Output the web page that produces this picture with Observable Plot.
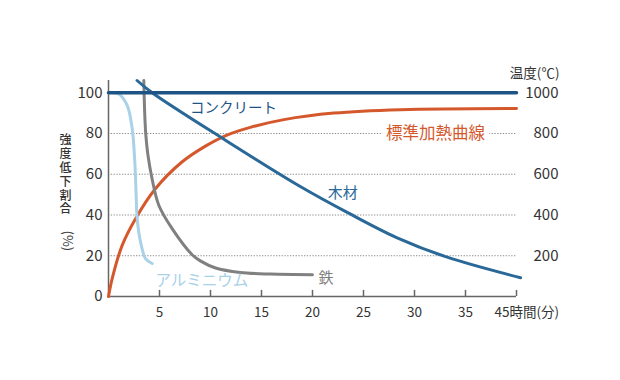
<!DOCTYPE html>
<html><head><meta charset="utf-8">
<script src="https://cdn.jsdelivr.net/npm/d3@7"></script>
<script src="https://cdn.jsdelivr.net/npm/@observablehq/plot@0.6"></script>
<style>body{margin:0;background:#fff} #chart{width:620px;height:380px}</style>
</head><body><div id="chart"></div>
<script>
// ---- data ----
const xTicks = [5, 10, 15, 20, 25, 30, 35, 40];
const xTickLabels = ["5", "10", "15", "20", "25", "30", "35", "45時間(分)"];
const leftTicks = [0, 20, 40, 60, 80, 100];
const rightTicks = [200, 400, 600, 800, 1000];
const gridLevels = [20, 40, 60, 80];
const yTitle = "強度低下割合";
const yTitleUnit = "(%)";
const rightTitle = "温度(℃)";

// time (min) / strength remaining (%)
const concreteT = [0, 40];
const concreteV = [100, 100];
const woodT = [2.8, 4.28, 11.5, 18.8, 23.4, 28.3, 33.2, 40.4];
const woodV = [106, 100, 76.6, 54, 41.3, 28.8, 19.3, 9.2];
const aluT = [0, 1.0, 1.83, 2.32, 2.58, 2.71, 2.81, 3.14, 3.63, 4.28];
const aluV = [100, 99.4, 93.8, 82.4, 66, 49.7, 38.2, 26.8, 18.6, 16.2];
const ironT = [3.46, 3.55, 3.65, 3.85, 4.27, 4.93, 6.24, 8.2, 9.0, 10.5, 12.9, 15.9, 20];
const ironV = [106, 90, 80, 70, 57.8, 44.8, 33.3, 20.5, 17.5, 14, 11.8, 11, 10.7];
// standard heating curve: time (min) / temperature (℃)
const heatT = [0, 0.36, 1.34, 2.65, 4.6, 7.2, 9.5, 11.5, 13.9, 17.2, 22.1, 28.6, 40];
const heatC = [0, 88, 251, 382, 529, 660, 738, 790, 830, 868, 900, 917, 923];

// series labels: name, anchor time, anchor value, size, colour
const labelNames = ["コンクリート", "木材", "標準加熱曲線", "アルミニウム", "鉄"];
const labelT = [8.0, 21.5, 27.2, 4.6, 20.6];
const labelV = [92.3, 50.5, 79.8, 7.8, 9.2];
const labelSizes = [14.5, 15, 16.5, 15.5, 15];
const labelColors = ["#1e5386", "#2a6898", "#d4582c", "#a9d1e8", "#808080"];

// ---- build ----
const rows = (T, V) => T.map((t, i) => ({t, v: V[i]}));
const heatRows = heatT.map((t, i) => ({t, c: heatC[i]}));
const xTickRows = xTicks.map((t, i) => ({t, label: xTickLabels[i]}));
const labels = labelNames.map((n, i) => ({name: n, t: labelT[i], v: labelV[i], size: labelSizes[i], color: labelColors[i]}));
const font = "'Noto Sans CJK JP', 'Noto Sans', sans-serif";

const labelMark = (i, halo) => Plot.text([labels[i]], {
  x: "t", y: "v", text: "name", textAnchor: "start", fontSize: labels[i].size,
  fill: labels[i].color, ...(halo ? {stroke: "white", strokeWidth: halo, paintOrder: "stroke"} : {})
});

const plot = Plot.plot({
  width: 620, height: 380,
  marginLeft: 108, marginRight: 104, marginTop: 80, marginBottom: 84,
  x: {domain: [0, 40], axis: null},
  y: {domain: [0, 106], axis: null},
  style: {fontFamily: font, background: "white", color: "#333", overflow: "visible"},
  marks: [
    Plot.ruleY(gridLevels, {x1: 0, x2: 40, stroke: "#8a8a8a", strokeDasharray: "1.3,1.5", strokeWidth: 1}),
    Plot.ruleY([0], {x1: 0, x2: 40, stroke: "#666", strokeWidth: 1.5}),
    Plot.ruleX([0], {y1: 0, y2: 106, stroke: "#666", strokeWidth: 1.5}),
    Plot.ruleX(xTicks, {y1: 0, y2: 3, stroke: "#666", strokeWidth: 1.5}),
    Plot.text(xTickRows.slice(0, -1), {x: "t", y: 0, text: "label", dy: 16, fontSize: 13.5, fill: "#333"}),
    Plot.text(xTickRows.slice(-1), {x: "t", y: 0, text: "label", dy: 16, dx: -22, textAnchor: "start", fontSize: 13.5, fill: "#333"}),
    Plot.text(leftTicks, {x: 0, y: d => d, text: d => String(d), textAnchor: "end", dx: -6, fontSize: 15, fill: "#333"}),
    Plot.text(rightTicks, {x: 40, y: d => d / 10, text: d => String(d), textAnchor: "end", dx: 42, fontSize: 15, fill: "#333"}),
    Plot.text([yTitle], {frameAnchor: "left", text: d => Array.from(d).join("\n"), lineHeight: 1.15, dx: -49, dy: -14, fontSize: 12, fontWeight: 500, fill: "#333"}),
    Plot.text([yTitleUnit], {frameAnchor: "left", text: d => d, rotate: 90, dx: -41, dy: 42, fontSize: 13, fill: "#333"}),
    Plot.text([rightTitle], {frameAnchor: "top-right", text: d => d, textAnchor: "end", dx: 43, dy: -12, fontSize: 13.5, fill: "#333"}),
    labelMark(2, 10),
    Plot.line(heatRows, {x: "t", y: d => d.c / 10, stroke: "#d4582c", strokeWidth: 3, curve: "catmull-rom"}),
    Plot.line(rows(aluT, aluV), {x: "t", y: "v", stroke: "#a9d1e8", strokeWidth: 3, curve: "catmull-rom"}),
    Plot.line(rows(ironT, ironV), {x: "t", y: "v", stroke: "#808080", strokeWidth: 3, curve: "catmull-rom"}),
    Plot.line(rows(woodT, woodV), {x: "t", y: "v", stroke: "#2a6898", strokeWidth: 3, curve: "catmull-rom"}),
    Plot.line(rows(concreteT, concreteV), {x: "t", y: "v", stroke: "#1e5386", strokeWidth: 3.5}),
    labelMark(0), labelMark(1), labelMark(3), labelMark(4)
  ]
});

document.getElementById("chart").appendChild(plot);
</script>
</body></html>
